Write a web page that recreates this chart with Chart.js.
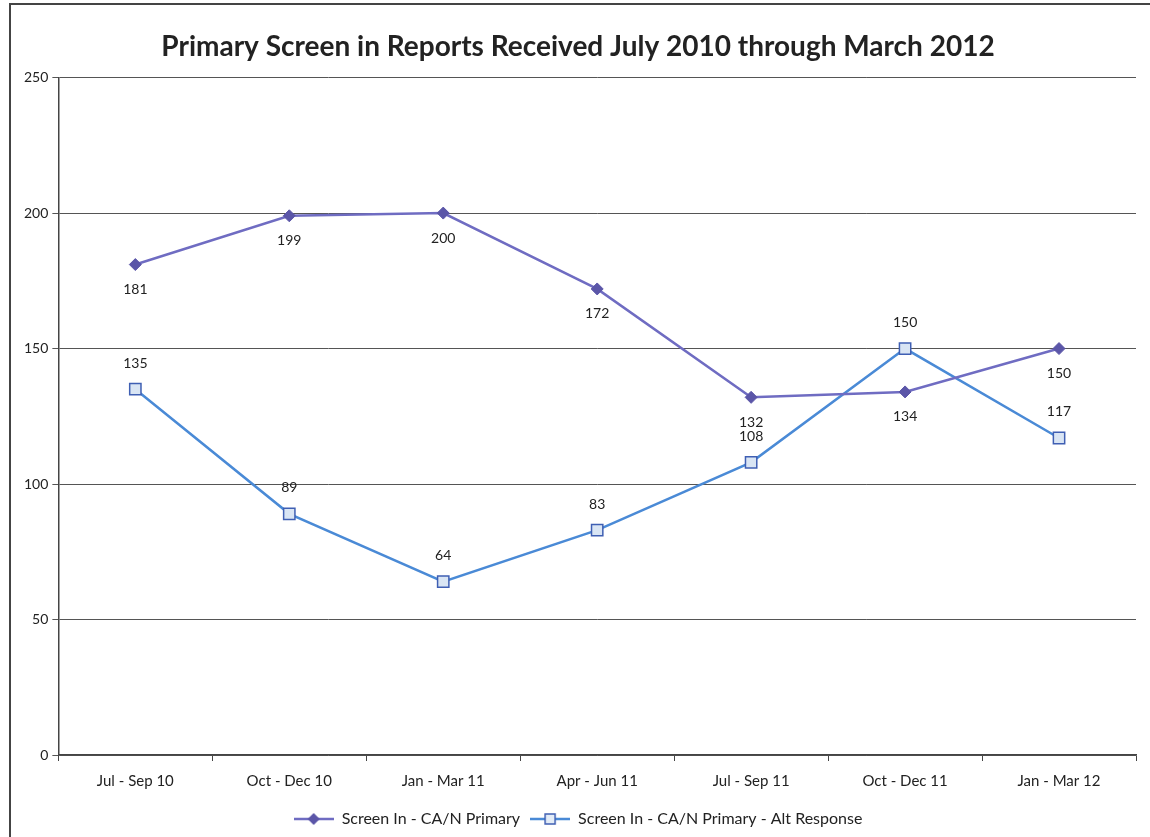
<!DOCTYPE html>
<html lang="en">
  <head>
    <meta charset="UTF-8" />
    <script src="https://cdn.jsdelivr.net/npm/chart.js@4.4.0/dist/chart.umd.min.js"></script>
    <title>Primary Screen in Reports</title>
    <style>
      html, body { margin: 0; padding: 0; background: #fff; }
      #wrap { width: 1150px; height: 837px; }
    </style>
  </head>
  <body>
    <div id="wrap"><canvas id="chart" width="1150" height="837"></canvas></div>
    <script>
      const quarters = ["Jul - Sep 10", "Oct - Dec 10", "Jan - Mar 11", "Apr - Jun 11", "Jul - Sep 11", "Oct - Dec 11", "Jan - Mar 12"];
      const primary = [181, 199, 200, 172, 132, 134, 150];
      const altResponse = [135, 89, 64, 83, 108, 150, 117];
      const yTicks = [0, 50, 100, 150, 200, 250];

      const font = "Lato, 'Open Sans', sans-serif";

      // little legend icons: a line with the marker in the middle
      function legendIcon(lineColor, marker) {
        const c = document.createElement("canvas");
        c.width = 40; c.height = 14;
        const g = c.getContext("2d");
        g.strokeStyle = lineColor; g.lineWidth = 2.5;
        g.beginPath(); g.moveTo(0, 7); g.lineTo(40, 7); g.stroke();
        if (marker == "diamond") {
          g.fillStyle = "#5b56a8";
          g.beginPath(); g.moveTo(20, 1); g.lineTo(26, 7); g.lineTo(20, 13); g.lineTo(14, 7); g.closePath(); g.fill();
        } else {
          g.fillStyle = "#e3ecf7"; g.strokeStyle = "#3f5fb3"; g.lineWidth = 1.5;
          g.fillRect(15, 2, 10, 10); g.strokeRect(15, 2, 10, 10);
        }
        return c;
      }

      const valueLabels = {
        id: "valueLabels",
        afterDatasetsDraw(chart) {
          const ctx = chart.ctx;
          ctx.save();
          ctx.font = "14px " + font;
          ctx.fillStyle = "#222";
          ctx.textAlign = "center";
          ctx.textBaseline = "middle";
          chart.data.datasets.forEach((ds, i) => {
            const meta = chart.getDatasetMeta(i);
            meta.data.forEach((pt, j) => {
              const dy = i == 0 ? 25 : -26;
              ctx.fillText(ds.data[j], pt.x, pt.y + dy);
            });
          });
          ctx.restore();
        }
      };

      const frame = {
        id: "frame",
        beforeDraw(chart) {
          const ctx = chart.ctx;
          ctx.save();
          ctx.strokeStyle = "#444";
          ctx.lineWidth = 2;
          ctx.beginPath();
          ctx.moveTo(10, 837); ctx.lineTo(10, 4); ctx.lineTo(1150, 4);
          ctx.stroke();
          ctx.restore();
        }
      };

      new Chart(document.getElementById("chart"), {
        type: "line",
        data: {
          labels: quarters,
          datasets: [
            {
              label: "Screen In - CA/N Primary",
              data: primary,
              borderColor: "#6f6cc2",
              borderWidth: 2.5,
              pointStyle: "rectRot",
              pointRadius: 6,
              pointBackgroundColor: "#5b56a8",
              pointBorderColor: "#5b56a8",
              pointBorderWidth: 1,
              tension: 0,
            },
            {
              label: "Screen In - CA/N Primary - Alt Response",
              data: altResponse,
              borderColor: "#4a8ad6",
              borderWidth: 2.5,
              pointStyle: "rect",
              pointRadius: 8,
              pointBackgroundColor: "#d9e5f4",
              pointBorderColor: "#3f5fb3",
              pointBorderWidth: 1.5,
              tension: 0,
            },
          ],
        },
        options: {
          responsive: false,
          animation: false,
          layout: { padding: { left: 20, right: 14, bottom: 0 } },
          plugins: {
            title: {
              display: true,
              text: "Primary Screen in Reports Received July 2010 through March 2012",
              color: "#222",
              font: { family: font, size: 28, weight: "bold" },
              padding: { top: 30, bottom: 14 },
            },
            legend: {
              position: "bottom",
              labels: {
                usePointStyle: true,
                pointStyleWidth: 40,
                color: "#222",
                font: { family: font, size: 16 },
                padding: 10,
                generateLabels(chart) {
                  return chart.data.datasets.map((ds, i) => ({
                    text: ds.label,
                    pointStyle: legendIcon(ds.borderColor, i == 0 ? "diamond" : "square"),
                    fillStyle: "transparent",
                    strokeStyle: "transparent",
                    lineWidth: 0,
                    fontColor: "#222",
                    datasetIndex: i,
                  }));
                },
              },
            },
            tooltip: { enabled: false },
          },
          scales: {
            x: {
              offset: true,
              grid: { drawOnChartArea: false, offset: true, tickLength: 6, color: "#444" },
              border: { color: "#444", width: 1.5 },
              ticks: { color: "#222", font: { family: font, size: 15 }, padding: 11, maxRotation: 0 },
            },
            y: {
              min: 0,
              max: 250,
              afterBuildTicks(axis) { axis.ticks = yTicks.map(v => ({ value: v })); },
              grid: { color: "#555", tickLength: 6 },
              border: { color: "#444", width: 1.5 },
              ticks: { color: "#222", font: { family: font, size: 14 }, padding: 4 },
            },
          },
        },
        plugins: [valueLabels, frame],
      });
    </script>
  </body>
</html>
